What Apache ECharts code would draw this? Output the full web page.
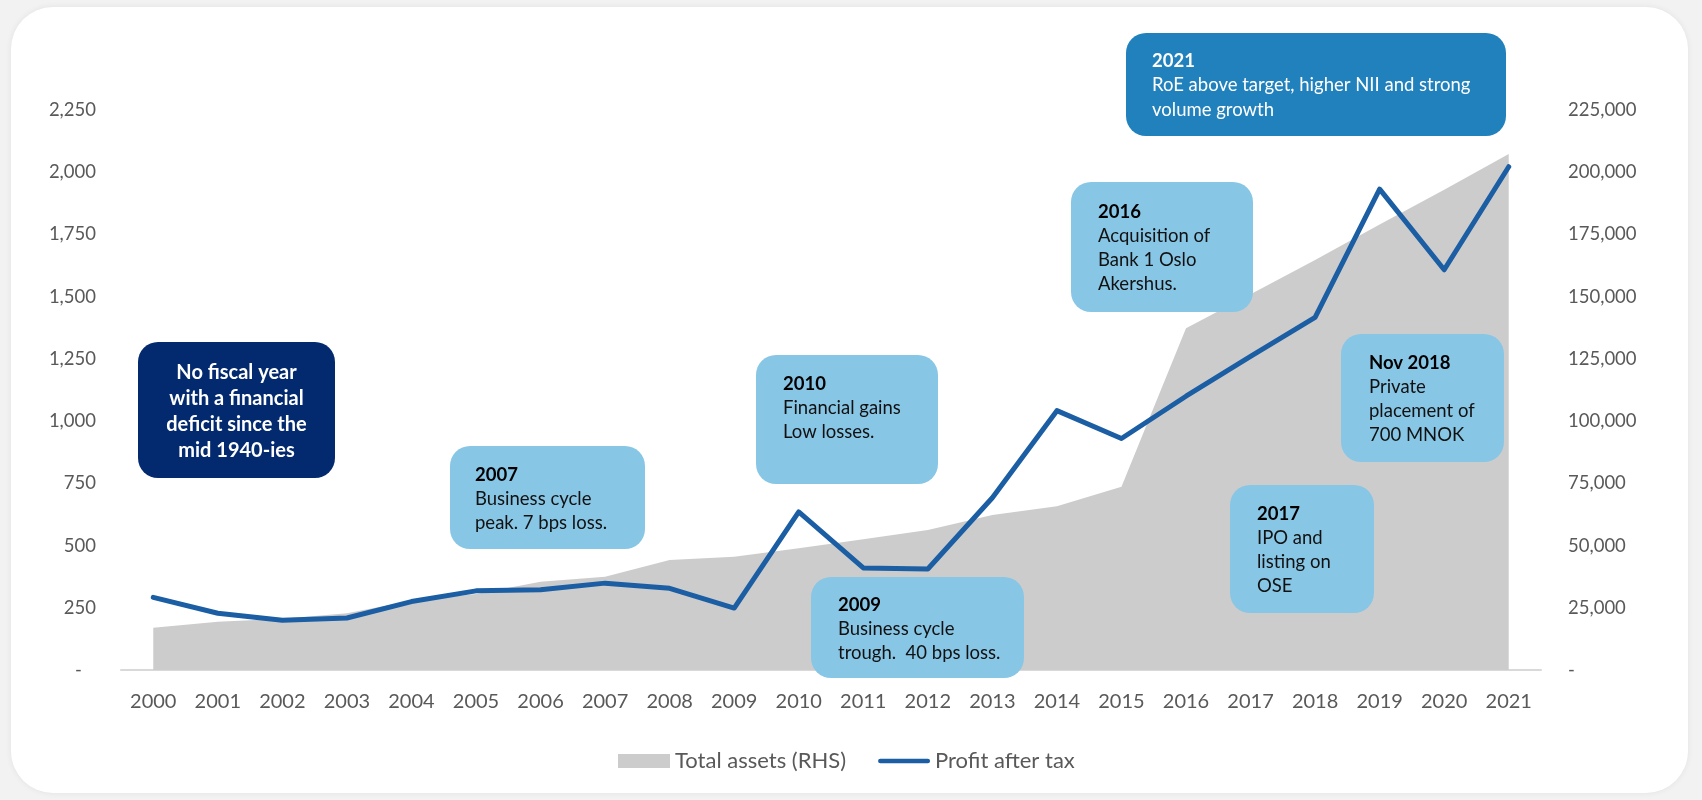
<!DOCTYPE html>
<html>
<head>
<meta charset="utf-8">
<script src="https://cdn.jsdelivr.net/npm/echarts@6/dist/echarts.min.js"></script>
<style>
  html, body { margin: 0; padding: 0; background: #f2f2f2; }
  #card {
    position: absolute; left: 11px; top: 7px; width: 1677px; height: 786px;
    background: #ffffff; border-radius: 42px;
    box-shadow: 0 0 6px rgba(0, 0, 0, 0.07);
  }
  #chart { position: absolute; left: 0; top: 0; width: 1702px; height: 800px; }
</style>
</head>
<body>
<div id="card"></div>
<div id="chart"></div>
<script>
// Years on the category axis
const years = ['2000', '2001', '2002', '2003', '2004', '2005', '2006', '2007', '2008', '2009', '2010',
  '2011', '2012', '2013', '2014', '2015', '2016', '2017', '2018', '2019', '2020', '2021'];

// Profit after tax (MNOK, left axis)
const profitAfterTax = [292, 228, 200, 209, 275, 318, 322, 349, 328, 249, 635,
  410, 406, 692, 1042, 930, 1100, 1260, 1417, 1932, 1608, 2022];

// Total assets (MNOK, right axis)
const totalAssets = [17000, 19400, 20600, 22800, 27800, 30500, 35500, 37500, 44200, 45500, 48900,
  52500, 56200, 62300, 65800, 73600, 137300, 151000, 164700, 179000, 193000, 207300];

// Axis ranges / tick steps
const leftTicks = { min: 0, max: 2250, interval: 250 };
const rightTicks = { min: 0, max: 225000, interval: 25000 };

const seriesNames = ['Total assets (RHS)', 'Profit after tax'];

// Callout texts: heading line followed by body lines
const noteDeficit = ['No fiscal year', 'with a financial', 'deficit since the', 'mid 1940-ies'];
const note2007 = ['2007', 'Business cycle', 'peak. 7 bps loss.'];
const note2010 = ['2010', 'Financial gains', 'Low losses.'];
const note2009 = ['2009', 'Business cycle', 'trough.  40 bps loss.'];
const note2016 = ['2016', 'Acquisition of', 'Bank 1 Oslo', 'Akershus.'];
const note2018 = ['Nov 2018', 'Private', 'placement of', '700 MNOK'];
const note2017 = ['2017', 'IPO and', 'listing on', 'OSE'];
const note2021 = ['2021', 'RoE above target, higher NII and strong', 'volume growth'];

const FONT = 'Lato, "Noto Sans", sans-serif';
const LIGHT = '#88c6e6', NAVY = '#03296f', MID = '#2181bc';

// Callout boxes: [x, y, w, h], fill, text anchor, first-line center, line step, text colours
const callouts = [
  { lines: noteDeficit, box: [138, 342, 197, 136], fill: NAVY, tx: 236.5, ty: 373, step: 26, align: 'center', head: '#fff', body: '#fff', allBold: true },
  { lines: note2007, box: [450, 446, 195, 103], fill: LIGHT, tx: 475, ty: 475, step: 24 },
  { lines: note2010, box: [756, 355, 182, 129], fill: LIGHT, tx: 783, ty: 384, step: 24 },
  { lines: note2009, box: [811, 577, 213, 101], fill: LIGHT, tx: 838, ty: 605, step: 24 },
  { lines: note2016, box: [1071, 182, 182, 130], fill: LIGHT, tx: 1098, ty: 212, step: 24 },
  { lines: note2018, box: [1341, 334, 163, 128], fill: LIGHT, tx: 1369, ty: 363, step: 24 },
  { lines: note2017, box: [1230, 485, 144, 128], fill: LIGHT, tx: 1257, ty: 514, step: 24 },
  { lines: note2021, box: [1126, 33, 380, 103], fill: MID, tx: 1152, ty: 61, step: 24.5, head: '#fff', body: '#fff' }
];

function calloutGraphic(c) {
  const head = c.head || '#000000';
  const body = c.body || '#111111';
  const text = c.lines.map((l, i) => (c.allBold || i === 0 ? '{h|' : '{b|') + l + '}').join('\n');
  return [
    {
      type: 'rect',
      z: 100,
      shape: { x: c.box[0], y: c.box[1], width: c.box[2], height: c.box[3], r: 20 },
      style: { fill: c.fill }
    },
    {
      type: 'text',
      z: 101,
      style: {
        x: c.tx,
        y: c.ty - c.step / 2,
        text: text,
        align: c.align || 'left',
        verticalAlign: 'top',
        rich: {
          h: { fontFamily: FONT, fontSize: c.allBold ? 20 : 18.5, fontWeight: 'bold', fill: head, color: head, lineHeight: c.step },
          b: { fontFamily: FONT, fontSize: 18.5, fill: body, color: body, lineHeight: c.step }
        }
      }
    }
  ];
}

const chart = echarts.init(document.getElementById('chart'), null, { renderer: 'canvas' });

const labelColor = '#595959';

chart.setOption({
  animation: false,
  grid: { left: 121, right: 161, top: 110, bottom: 130, containLabel: false },
  legend: {
    left: 613,
    top: 742,
    itemWidth: 52,
    itemHeight: 14,
    itemGap: 32,
    textStyle: { fontFamily: FONT, fontSize: 22, color: labelColor, lineHeight: 28 },
    data: [
      { name: seriesNames[0], icon: 'rect', itemStyle: { color: '#cccccc', borderWidth: 0 } },
      { name: seriesNames[1], icon: 'path://M2.5,0H53.5A2.5,2.5,0,0,1,53.5,5H2.5A2.5,2.5,0,0,1,2.5,0Z', itemStyle: { color: '#1b5ea3', borderWidth: 0 } }
    ]
  },
  xAxis: {
    type: 'category',
    data: years,
    boundaryGap: true,
    axisLine: { lineStyle: { color: '#d9d9d9', width: 2 } },
    axisTick: { show: false },
    axisLabel: { color: labelColor, fontFamily: FONT, fontSize: 20, margin: 22, interval: 0 },
    splitLine: { show: false }
  },
  yAxis: [
    {
      type: 'value',
      min: leftTicks.min, max: leftTicks.max, interval: leftTicks.interval,
      axisLine: { show: false }, axisTick: { show: false }, splitLine: { show: false },
      axisLabel: {
        color: labelColor, fontFamily: FONT, fontSize: 18.5, margin: 25,
        formatter: v => (v === 0 ? '-   ' : v.toLocaleString('en-US'))
      }
    },
    {
      type: 'value',
      min: rightTicks.min, max: rightTicks.max, interval: rightTicks.interval,
      axisLine: { show: false }, axisTick: { show: false }, splitLine: { show: false },
      axisLabel: {
        color: labelColor, fontFamily: FONT, fontSize: 18.5, margin: 27,
        formatter: v => (v === 0 ? '-' : v.toLocaleString('en-US'))
      }
    }
  ],
  series: [
    {
      name: seriesNames[0],
      type: 'line',
      yAxisIndex: 1,
      data: totalAssets,
      symbol: 'none',
      itemStyle: { color: '#cccccc' },
      lineStyle: { width: 0, color: '#cccccc' },
      areaStyle: { color: '#cccccc', opacity: 1 },
      z: 1
    },
    {
      name: seriesNames[1],
      type: 'line',
      yAxisIndex: 0,
      data: profitAfterTax,
      symbol: 'none',
      itemStyle: { color: '#1b5ea3' },
      lineStyle: { width: 5, color: '#1b5ea3', join: 'round', cap: 'round' },
      z: 3
    }
  ],
  graphic: [].concat(...callouts.map(calloutGraphic))
});
</script>
</body>
</html>
